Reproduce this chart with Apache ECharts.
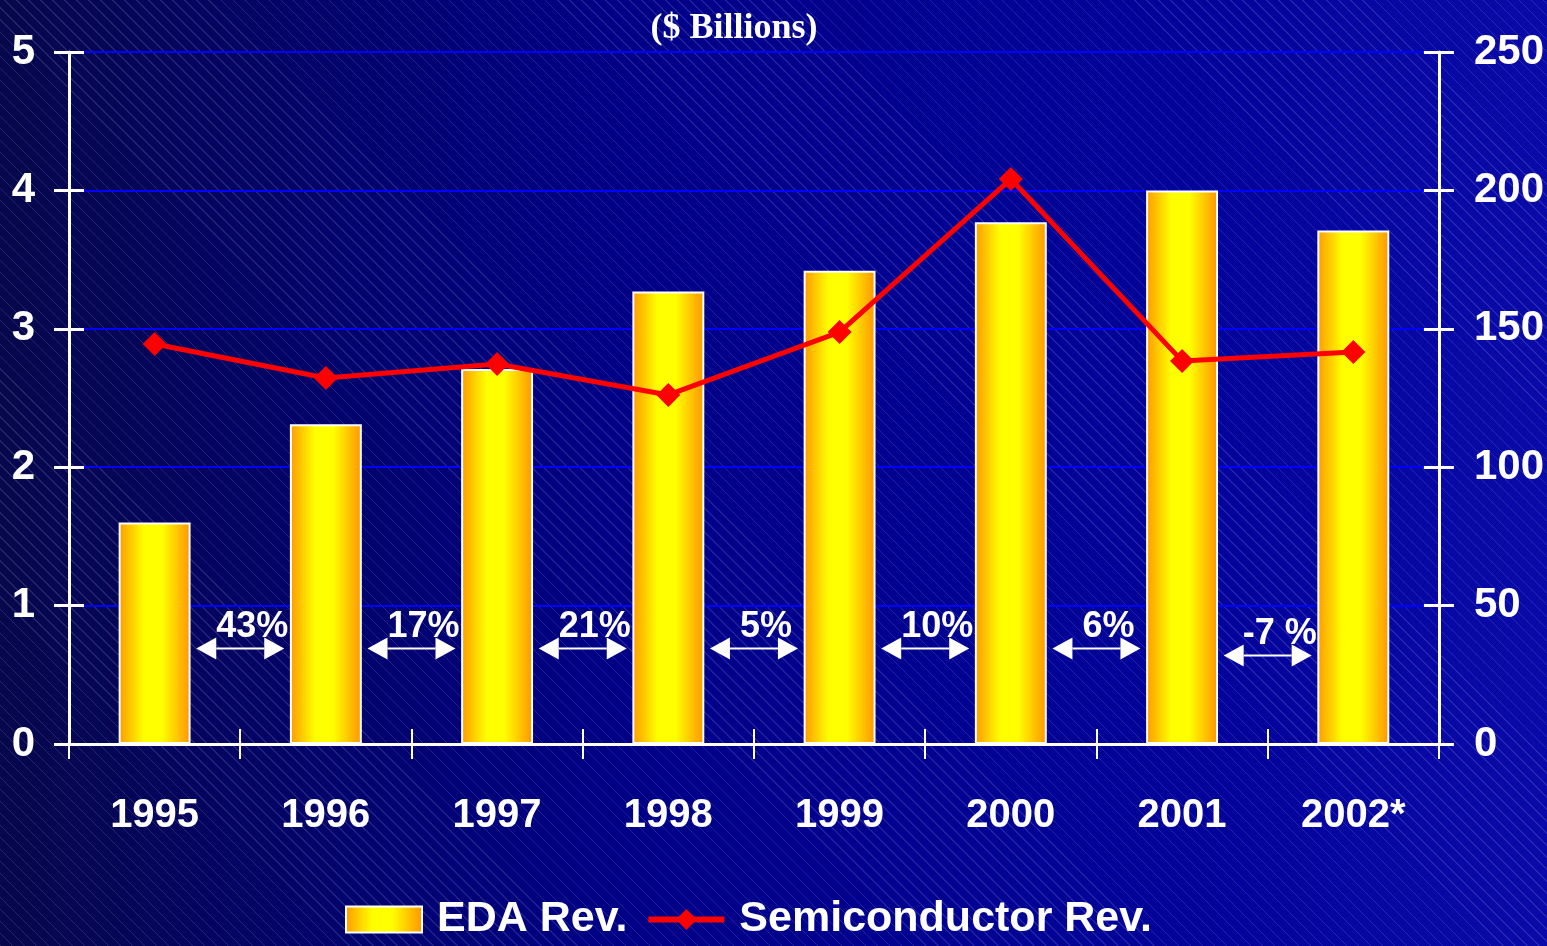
<!DOCTYPE html>
<html>
<head>
<meta charset="utf-8">
<script src="https://cdn.jsdelivr.net/npm/echarts@6/dist/echarts.min.js"></script>
<style>
  html, body { margin: 0; padding: 0; }
  body {
    width: 1547px;
    height: 946px;
    overflow: hidden;
    background:
      repeating-linear-gradient(45deg, rgba(170, 170, 230, 0.18) 0px, rgba(170, 170, 230, 0.18) 1px, transparent 1px, transparent 8.5px),
      linear-gradient(to right, #07074c 0%, #000086 40%, #04049c 80%, #0a0aa8 100%);
  }
  #chart { width: 1547px; height: 946px; }
</style>
</head>
<body>
<div id="chart"></div>
<script>
const FONT = "'Liberation Sans', Arial, sans-serif"

const years = ['1995', '1996', '1997', '1998', '1999', '2000', '2001', '2002*']
const edaRev = [1.60, 2.31, 2.71, 3.27, 3.42, 3.77, 4.00, 3.71]
const semiRev = [144.5, 132.2, 137.3, 126.1, 148.8, 204.1, 138.4, 141.6]
const growthLabels = ['43%', '17%', '21%', '5%', '10%', '6%', '-7 %']
const arrowLevels = [0.69, 0.69, 0.69, 0.69, 0.69, 0.69, 0.64]
const leftTicks = [0, 1, 2, 3, 4, 5]
const rightTicks = [0, 50, 100, 150, 200, 250]

const barGradient = new echarts.graphic.LinearGradient(0, 0, 1, 0, [
  { offset: 0, color: '#ff9900' },
  { offset: 0.35, color: '#ffff00' },
  { offset: 0.6, color: '#ffff00' },
  { offset: 1, color: '#ff9400' },
])

const labelStyle = { color: '#fff', fontFamily: FONT, fontWeight: 'bold' }
const whiteLine = { show: true, lineStyle: { color: '#fff', width: 3 } }

const chart = echarts.init(document.getElementById('chart'))

chart.setOption({
  backgroundColor: 'transparent',
  animation: false,
  title: {
    text: '($ Billions)',
    left: 729,
    textAlign: 'center',
    top: 6,
    textStyle: { color: '#fff', fontFamily: "'Liberation Serif', 'Times New Roman', serif", fontWeight: 'bold', fontSize: 36 },
  },
  legend: {
    bottom: 0,
    left: 340,
    itemWidth: 76,
    itemHeight: 26,
    itemGap: 18,
    textStyle: { color: '#fff', fontFamily: FONT, fontWeight: 'bold', fontSize: 43, padding: [0, 0, 0, 10] },
    data: [
      { name: 'EDA Rev.', icon: 'rect' },
      { name: 'Semiconductor Rev.', lineStyle: { width: 6, color: '#ff0000' } },
    ],
  },
  grid: { left: 69, right: 107, top: 52, bottom: 202 },
  xAxis: [
    {
      type: 'category',
      data: years,
      position: 'bottom',
      axisLine: whiteLine,
      axisTick: { show: true, length: 15, lineStyle: { color: '#fff', width: 2 } },
      axisLabel: { ...labelStyle, fontSize: 40, margin: 52 },
    },
    {
      type: 'category',
      data: years,
      position: 'bottom',
      axisLine: { show: false },
      axisTick: { show: true, inside: true, length: 15, lineStyle: { color: '#fff', width: 2 } },
      axisLabel: { show: false },
    },
  ],
  yAxis: [
    {
      type: 'value', min: 0, max: 5, interval: 1, position: 'left',
      axisLine: whiteLine,
      axisTick: { show: true, length: 15, lineStyle: { color: '#fff', width: 3 } },
      axisLabel: { ...labelStyle, fontSize: 42, margin: 34, formatter: v => leftTicks.includes(v) ? String(v) : '' },
      splitLine: { show: true, lineStyle: { color: '#0000ff', width: 2 } },
    },
    {
      type: 'value', min: 0, max: 250, interval: 50, position: 'right',
      axisLine: whiteLine,
      axisTick: { show: true, length: 15, lineStyle: { color: '#fff', width: 3 } },
      axisLabel: { ...labelStyle, fontSize: 42, margin: 35, formatter: v => rightTicks.includes(v) ? String(v) : '' },
      splitLine: { show: false },
    },
    {
      type: 'value', min: 0, max: 5, interval: 1, position: 'left',
      axisLine: { show: false },
      axisTick: { show: true, inside: true, length: 15, lineStyle: { color: '#fff', width: 3 } },
      axisLabel: { show: false },
      splitLine: { show: false },
    },
    {
      type: 'value', min: 0, max: 250, interval: 50, position: 'right',
      axisLine: { show: false },
      axisTick: { show: true, inside: true, length: 15, lineStyle: { color: '#fff', width: 3 } },
      axisLabel: { show: false },
      splitLine: { show: false },
    },
  ],
  series: [
    {
      name: 'EDA Rev.',
      type: 'bar',
      data: edaRev,
      barWidth: '42%',
      itemStyle: { color: barGradient, borderColor: '#fff', borderWidth: 2 },
      z: 2,
    },
    {
      name: 'growth',
      type: 'custom',
      data: arrowLevels.map((v, i) => [i, v]),
      z: 3,
      silent: true,
      renderItem(params, api) {
        const i = api.value(0)
        const a = api.coord([i, api.value(1)])
        const b = api.coord([i + 1, api.value(1)])
        const cx = (a[0] + b[0]) / 2
        const cy = a[1]
        const half = 44, head = 20, hh = 11
        return {
          type: 'group',
          children: [
            { type: 'line', shape: { x1: cx - half + head, y1: cy, x2: cx + half - head, y2: cy }, style: { stroke: '#fff', lineWidth: 2 } },
            { type: 'polygon', shape: { points: [[cx - half, cy], [cx - half + head, cy - hh], [cx - half + head, cy + hh]] }, style: { fill: '#fff' } },
            { type: 'polygon', shape: { points: [[cx + half, cy], [cx + half - head, cy - hh], [cx + half - head, cy + hh]] }, style: { fill: '#fff' } },
            {
              type: 'text', x: cx + 12, y: cy - 21,
              style: { text: growthLabels[params.dataIndex], fill: '#fff', font: 'bold 36px ' + FONT, align: 'center', verticalAlign: 'middle' },
            },
          ],
        }
      },
    },
    {
      name: 'Semiconductor Rev.',
      type: 'line',
      yAxisIndex: 1,
      data: semiRev,
      symbol: 'diamond',
      symbolSize: 24,
      lineStyle: { color: '#ff0000', width: 5 },
      itemStyle: { color: '#ff0000' },
      z: 4,
    },
  ],
})
</script>
</body>
</html>
